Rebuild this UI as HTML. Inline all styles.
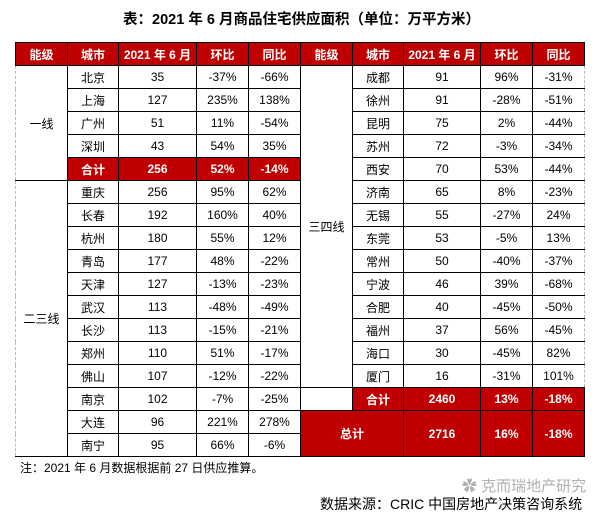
<!DOCTYPE html>
<html><head><meta charset="utf-8"><style>
body{margin:0;width:603px;height:516px;background:#fff;position:relative;overflow:hidden;font-family:"Liberation Sans","Noto Sans CJK SC",sans-serif;}
.title{position:absolute;top:8px;left:0;width:603px;text-align:center;font-weight:bold;font-size:14.5px;color:#000;}
table{position:absolute;left:15px;top:42px;border-collapse:collapse;table-layout:fixed;font-size:12px;}
td{height:22px;padding:0;text-align:center;border:1px solid #000;overflow:hidden;white-space:nowrap;}
tr.h td,td.r{background:#c00000;color:#fff;font-weight:bold;}
td.lv{border-left:1px dashed #bbb;}
td.rt{border-right:1px dashed #bbb;}
.note{position:absolute;left:20px;top:459px;font-size:12px;}
.wm{position:absolute;left:462px;top:475px;font-size:15px;color:#b0b0b0;}
.src{position:absolute;left:320px;top:494px;font-size:14px;}
</style></head><body>
<div class="title">表：2021 年 6 月商品住宅供应面积（单位：万平方米）</div>
<table>
<colgroup><col style="width:52px"><col style="width:51px"><col style="width:78px"><col style="width:52px"><col style="width:52px"><col style="width:52px"><col style="width:51px"><col style="width:77px"><col style="width:52px"><col style="width:52px"></colgroup>
<tr class="h"><td>能级</td><td>城市</td><td>2021 年 6 月</td><td>环比</td><td>同比</td><td>能级</td><td>城市</td><td>2021 年 6 月</td><td>环比</td><td>同比</td></tr>
<tr><td rowspan="5" class="lv">一线</td><td>北京</td><td>35</td><td>-37%</td><td>-66%</td><td rowspan="14">三四线</td><td>成都</td><td>91</td><td>96%</td><td class="rt">-31%</td></tr>
<tr><td>上海</td><td>127</td><td>235%</td><td>138%</td><td>徐州</td><td>91</td><td>-28%</td><td class="rt">-51%</td></tr>
<tr><td>广州</td><td>51</td><td>11%</td><td>-54%</td><td>昆明</td><td>75</td><td>2%</td><td class="rt">-44%</td></tr>
<tr><td>深圳</td><td>43</td><td>54%</td><td>35%</td><td>苏州</td><td>72</td><td>-3%</td><td class="rt">-34%</td></tr>
<tr><td class="r">合计</td><td class="r">256</td><td class="r">52%</td><td class="r">-14%</td><td>西安</td><td>70</td><td>53%</td><td class="rt">-44%</td></tr>
<tr><td rowspan="12" class="lv">二三线</td><td>重庆</td><td>256</td><td>95%</td><td>62%</td><td>济南</td><td>65</td><td>8%</td><td class="rt">-23%</td></tr>
<tr><td>长春</td><td>192</td><td>160%</td><td>40%</td><td>无锡</td><td>55</td><td>-27%</td><td class="rt">24%</td></tr>
<tr><td>杭州</td><td>180</td><td>55%</td><td>12%</td><td>东莞</td><td>53</td><td>-5%</td><td class="rt">13%</td></tr>
<tr><td>青岛</td><td>177</td><td>48%</td><td>-22%</td><td>常州</td><td>50</td><td>-40%</td><td class="rt">-37%</td></tr>
<tr><td>天津</td><td>127</td><td>-13%</td><td>-23%</td><td>宁波</td><td>46</td><td>39%</td><td class="rt">-68%</td></tr>
<tr><td>武汉</td><td>113</td><td>-48%</td><td>-49%</td><td>合肥</td><td>40</td><td>-45%</td><td class="rt">-50%</td></tr>
<tr><td>长沙</td><td>113</td><td>-15%</td><td>-21%</td><td>福州</td><td>37</td><td>56%</td><td class="rt">-45%</td></tr>
<tr><td>郑州</td><td>110</td><td>51%</td><td>-17%</td><td>海口</td><td>30</td><td>-45%</td><td class="rt">82%</td></tr>
<tr><td>佛山</td><td>107</td><td>-12%</td><td>-22%</td><td>厦门</td><td>16</td><td>-31%</td><td class="rt">101%</td></tr>
<tr><td>南京</td><td>102</td><td>-7%</td><td>-25%</td><td style="border-bottom:1px solid #000"></td><td class="r">合计</td><td class="r">2460</td><td class="r">13%</td><td class="r">-18%</td></tr>
<tr><td>大连</td><td>96</td><td>221%</td><td>278%</td><td rowspan="2" colspan="2" class="r">总计</td><td rowspan="2" class="r">2716</td><td rowspan="2" class="r">16%</td><td rowspan="2" class="r">-18%</td></tr>
<tr><td>南宁</td><td>95</td><td>66%</td><td>-6%</td></tr>
</table>
<div class="note">注：2021 年 6 月数据根据前 27 日供应推算。</div>
<div class="wm">✿ 克而瑞地产研究</div>
<div class="src">数据来源：CRIC 中国房地产决策咨询系统</div>
</body></html>
